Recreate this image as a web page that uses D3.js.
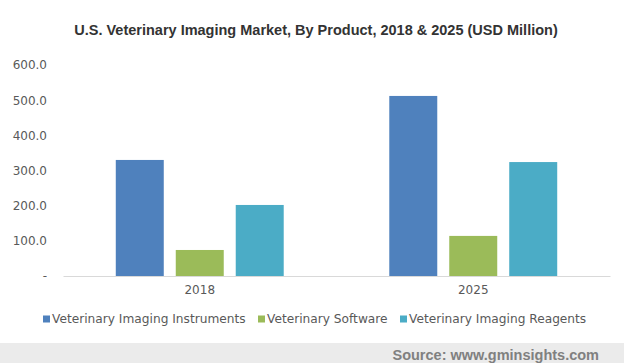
<!DOCTYPE html>
<html>
<head>
<meta charset="utf-8">
<script src="https://cdn.jsdelivr.net/npm/d3@7"></script>
<style>
  body { margin: 0; background: #fff; }
  svg { display: block; }
</style>
</head>
<body>
<div id="viz"></div>
<script>
const years = ["2018", "2025"];
const products = ["Veterinary Imaging Instruments", "Veterinary Software", "Veterinary Imaging Reagents"];
const instruments = [330, 512];
const software = [74, 114];
const reagents = [202, 324];
const yTicks = [0, 100, 200, 300, 400, 500, 600];
const colors = ["#4f81bd", "#9bbb59", "#4bacc6"];

const W = 624, H = 363;
const margin = {top: 65, right: 14, bottom: 87, left: 63};

const series = [instruments, software, reagents];
const data = years.map((yr, i) => ({
  year: yr,
  values: products.map((p, j) => ({product: p, idx: j, value: series[j][i]}))
}));

const svg = d3.select("#viz")
  .append("svg")
    .attr("width", W)
    .attr("height", H);

// title
svg.append("text")
  .attr("x", 316)
  .attr("y", 35)
  .attr("text-anchor", "middle")
  .style("font-family", "Liberation Sans, Arial, sans-serif")
  .style("font-weight", "bold")
  .style("font-size", "14.5px")
  .style("fill", "#333")
  .text("U.S. Veterinary Imaging Market, By Product, 2018 & 2025 (USD Million)");

const x0 = d3.scaleBand()
  .domain(years)
  .range([margin.left, W - margin.right]);

const x1 = d3.scaleBand()
  .domain(d3.range(products.length))
  .range([0, x0.bandwidth()])
  .paddingInner(0.2)
  .paddingOuter(0.88);

const y = d3.scaleLinear()
  .domain([0, 600])
  .range([H - margin.bottom, margin.top]);

// y axis labels
const yAxis = svg.append("g")
  .attr("transform", "translate(" + (margin.left - 16) + ",0)")
  .call(d3.axisLeft(y)
    .tickValues(yTicks)
    .tickSize(0)
    .tickPadding(0)
    .tickFormat(d => d === 0 ? "-   " : d.toFixed(1)));
yAxis.select(".domain").remove();
yAxis.selectAll("text")
  .style("font-family", "DejaVu Sans, Verdana, sans-serif")
  .style("font-size", "12px")
  .style("fill", "#595959");

// bars
const groups = svg.append("g")
  .selectAll("g")
  .data(data)
  .enter()
  .append("g")
    .attr("transform", d => "translate(" + x0(d.year) + ",0)");

groups.selectAll("rect")
  .data(d => d.values)
  .enter()
  .append("rect")
    .attr("x", d => x1(d.idx))
    .attr("width", x1.bandwidth())
    .attr("y", d => y(d.value))
    .attr("height", d => y(0) - y(d.value))
    .style("fill", d => colors[d.idx]);

// x axis
const xAxis = svg.append("g")
  .attr("transform", "translate(0," + y(0) + ")")
  .call(d3.axisBottom(x0).tickSize(0).tickPadding(9));
xAxis.select(".domain")
  .attr("stroke", "#d9d9d9");
xAxis.selectAll("text")
  .style("font-family", "DejaVu Sans, Verdana, sans-serif")
  .style("font-size", "12px")
  .style("fill", "#595959");

// legend
const legendX = [43, 258, 400];
const legend = svg.append("g")
  .selectAll("g")
  .data(products)
  .enter()
  .append("g")
    .attr("transform", (d, i) => "translate(" + legendX[i] + ",319)");
legend.append("rect")
  .attr("x", 0)
  .attr("y", -3.5)
  .attr("width", 7)
  .attr("height", 7)
  .style("fill", (d, i) => colors[i]);
legend.append("text")
  .attr("x", 9)
  .attr("y", 0)
  .attr("dy", "0.35em")
  .style("font-family", "DejaVu Sans, Verdana, sans-serif")
  .style("font-size", "12.2px")
  .style("fill", "#595959")
  .text(d => d);

// source band
svg.append("rect")
  .attr("x", 0)
  .attr("y", 343)
  .attr("width", W)
  .attr("height", H - 343)
  .style("fill", "#ebebeb");
svg.append("text")
  .attr("x", 599)
  .attr("y", 355)
  .attr("dy", "0.35em")
  .attr("text-anchor", "end")
  .style("font-family", "Liberation Sans, Arial, sans-serif")
  .style("font-weight", "bold")
  .style("font-size", "14.5px")
  .style("fill", "#808080")
  .text("Source: www.gminsights.com");
</script>
</body>
</html>
